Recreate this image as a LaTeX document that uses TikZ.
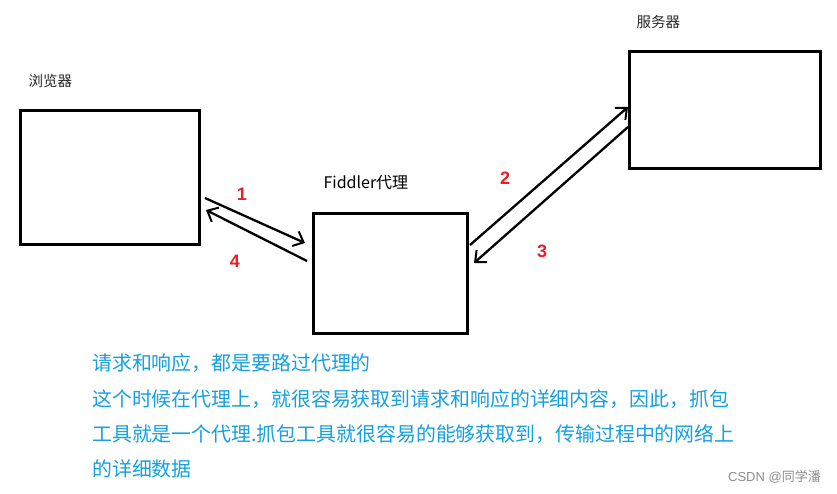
\documentclass[tikz,border=0pt]{standalone}
\usepackage{fontspec}
\newfontfamily\cjk{Noto Sans CJK SC}
\newfontfamily\numfont{Liberation Sans}
\usetikzlibrary{arrows.meta}
\definecolor{txtblue}{RGB}{20,160,225}
\definecolor{numred}{RGB}{235,30,40}
\tikzset{
  box/.style={draw=black, line width=3pt, anchor=north west, inner sep=0pt, outer sep=0pt},
  conn/.style={draw=black, line width=2.3pt, -{Straight Barb[length=9pt,width=16pt,line width=2pt]}},
  num/.style={text=numred, font=\numfont\bfseries\fontsize{18}{18}\selectfont},
  lab/.style={text=black!85, font=\cjk\fontsize{14.5}{14.5}\selectfont},
  body/.style={text=txtblue, anchor=west, inner sep=0pt, font=\cjk\fontsize{19.9}{19.9}\selectfont}
}
\begin{document}
\begin{tikzpicture}[x=1pt,y=-1pt]
\useasboundingbox[fill=white] (0,0) rectangle (837,493);
% boxes
\node[box, minimum width=179pt, minimum height=134pt] (browser) at (20,110) {};
\node[box, minimum width=154pt, minimum height=120pt] (fiddler) at (313,213) {};
\node[box, minimum width=191pt, minimum height=117pt] (server) at (629,51) {};
% labels
\node[lab, anchor=west] (lb) at (25,81) {浏览器};
\node[lab, anchor=west, text=black, font=\cjk\fontsize{16}{16}\selectfont] (lf) at (320,183) {Fiddler代理};
\node[lab, anchor=west] (ls) at (633,22) {服务器};
% arrow endpoints
\coordinate (a1s) at (205,198);
\coordinate (a1e) at (305,243);
\coordinate (a4s) at (307,261);
\coordinate (a4e) at (206,210);
\coordinate (a2s) at (470,245);
\coordinate (a2e) at (628,107);
\coordinate (a3s) at (628,127);
\coordinate (a3e) at (474,263);
\draw[conn] (a1s) -- (a1e);
\draw[conn] (a4s) -- (a4e);
\draw[conn] (a2s) -- (a2e);
\draw[conn] (a3s) -- (a3e);
% numbers
\node[num] (n1) at (242,194) {1};
\node[num] (n4) at (235,261) {4};
\node[num] (n2) at (505,178) {2};
\node[num] (n3) at (542,251) {3};
% body text
\node[body] (t1) at (92,363) {请求和响应，都是要路过代理的};
\node[body] (t2) at (92,399) {这个时候在代理上，就很容易获取到请求和响应的详细内容，因此，抓包};
\node[body] (t3) at (92,434) {工具就是一个代理.抓包工具就很容易的能够获取到，传输过程中的网络上};
\node[body] (t4) at (92,469) {的详细数据};
\node[anchor=east, inner sep=0pt, text=black!45, font=\numfont\fontsize{13}{13}\selectfont] (wm) at (821,477) {CSDN @{\cjk 同学潘}};
\end{tikzpicture}
\end{document}
